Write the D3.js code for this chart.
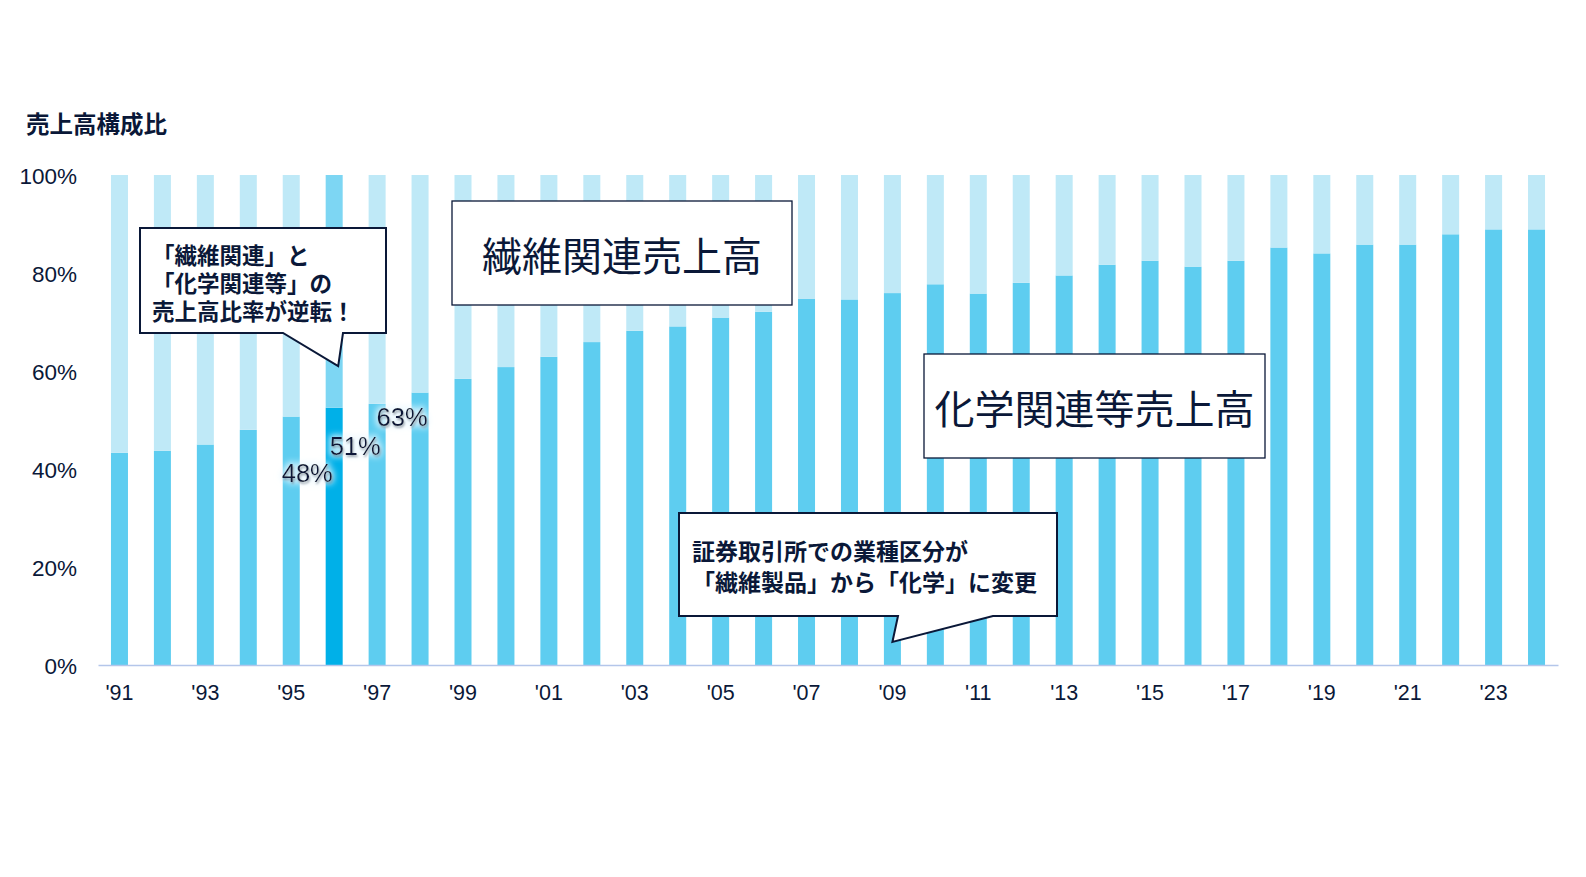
<!DOCTYPE html>
<html>
<head>
<meta charset="utf-8">
<script src="https://cdn.jsdelivr.net/npm/d3@7"></script>
<style>
	body { margin: 0; background: #fff; }
	svg { display: block; }
	text { font-family: "Liberation Sans", Arial, "Noto Sans CJK JP", sans-serif; }
	.jp { font-family: "Noto Sans CJK JP", sans-serif; }
</style>
</head>
<body>
<svg width="1586" height="877"></svg>
<script>
// 年度（'91〜'24）
let years = ['91', '92', '93', '94', '95', '96', '97', '98', '99', '00', '01', '02', '03', '04', '05', '06', '07',
	'08', '09', '10', '11', '12', '13', '14', '15', '16', '17', '18', '19', '20', '21', '22', '23', '24']
// 化学関連等売上高の構成比（%）
let chemShare = [43.3, 43.7, 45.0, 48.0, 50.7, 52.5, 53.3, 55.6, 58.4, 60.8, 62.9, 65.9, 68.2, 69.1, 70.9, 72.1, 74.7,
	74.6, 75.9, 77.7, 75.8, 78.0, 79.5, 81.7, 82.5, 81.3, 82.5, 85.2, 84.0, 85.8, 85.8, 87.9, 88.9, 88.9]
// 繊維関連売上高の構成比（%）
let fiberShare = [56.7, 56.3, 55.0, 52.0, 49.3, 47.5, 46.7, 44.4, 41.6, 39.2, 37.1, 34.1, 31.8, 30.9, 29.1, 27.9, 25.3,
	25.4, 24.1, 22.3, 24.2, 22.0, 20.5, 18.3, 17.5, 18.7, 17.5, 14.8, 16.0, 14.2, 14.2, 12.1, 11.1, 11.1]
let tickYears = ['91', '93', '95', '97', '99', '01', '03', '05', '07', '09', '11', '13', '15', '17', '19', '21', '23']
let yTicks = [0, 20, 40, 60, 80, 100]
let highlightYear = '96'
let pctLabels = [
	{year: '95', text: '48%', dx: 16, value: 39.1},
	{year: '96', text: '51%', dx: 21, value: 44.6},
	{year: '97', text: '63%', dx: 25, value: 50.6}
]

let navy = '#0a1838'
let svg = d3.select('svg')

let x = d3.scaleBand().domain(years).range([98, 1558]).paddingInner(0.604).paddingOuter(0.302)
let y = d3.scaleLinear().domain([0, 100]).range([665, 175])

let rows = years.map((yr, i) => ({year: yr, chem: chemShare[i], fiber: fiberShare[i]}))
let series = d3.stack().keys(['chem', 'fiber'])(rows)

let colors = {
	chem: d3.scaleOrdinal().domain([false, true]).range(['#5ecdf0', '#00b0e8']),
	fiber: d3.scaleOrdinal().domain([false, true]).range(['#bfe9f7', '#7dd6f3'])
}

let defs = svg.append('defs')
let glow = defs.append('filter').attr('id', 'glow').attr('x', '-30%').attr('y', '-30%').attr('width', '160%').attr('height', '160%')
glow.append('feMorphology').attr('in', 'SourceAlpha').attr('operator', 'dilate').attr('radius', 2).attr('result', 'd')
glow.append('feGaussianBlur').attr('in', 'd').attr('stdDeviation', 3).attr('result', 'b')
glow.append('feFlood').attr('flood-color', '#eaf8ff').attr('flood-opacity', 0.85)
glow.append('feComposite').attr('in2', 'b').attr('operator', 'in').attr('result', 'g')
glow.append('feOffset').attr('in', 'SourceAlpha').attr('dx', 1.2).attr('dy', 1.8).attr('result', 'so')
glow.append('feGaussianBlur').attr('in', 'so').attr('stdDeviation', 0.9).attr('result', 'sb')
glow.append('feFlood').attr('flood-color', '#1c3556').attr('flood-opacity', 0.65)
glow.append('feComposite').attr('in2', 'sb').attr('operator', 'in').attr('result', 's')
let merge = glow.append('feMerge')
merge.append('feMergeNode').attr('in', 'g')
merge.append('feMergeNode').attr('in', 's')
merge.append('feMergeNode').attr('in', 'SourceGraphic')

// 棒
svg.append('g')
	.selectAll('g')
	.data(series)
	.join('g')
	.attr('data-key', d => d.key)
	.selectAll('rect')
	.data(d => d.map(p => Object.assign({key: d.key}, p)))
	.join('rect')
	.attr('x', d => x(d.data.year))
	.attr('width', x.bandwidth())
	.attr('y', d => y(d[1]))
	.attr('height', d => y(d[0]) - y(d[1]))
	.attr('fill', d => colors[d.key](d.data.year === highlightYear))

// 軸
let xAxis = svg.append('g')
	.attr('transform', 'translate(0,' + y(0) + ')')
	.call(d3.axisBottom(x).tickValues(tickYears).tickSize(0).tickPadding(20).tickFormat(d => "'" + d))
xAxis.select('.domain').attr('stroke', '#b4c6ea').attr('stroke-width', 1.5)
xAxis.selectAll('text').attr('font-size', 21.5).attr('fill', navy).attr('font-family', '"Liberation Sans", Arial, sans-serif')

let yAxis = svg.append('g')
	.attr('transform', 'translate(77,0)')
	.call(d3.axisLeft(y).tickValues(yTicks).tickSize(0).tickPadding(0).tickFormat(d => d + '%'))
yAxis.select('.domain').remove()
yAxis.selectAll('text').attr('font-size', 22.5).attr('fill', navy).attr('dy', '0.36em').attr('font-family', '"Liberation Sans", Arial, sans-serif')

// 見出し
svg.append('text').attr('class', 'jp')
	.attr('x', 26).attr('y', 123).attr('dominant-baseline', 'central')
	.attr('font-size', 23.5).attr('font-weight', 'bold').attr('fill', navy)
	.text('売上高構成比')

// 系列名ボックス
let nameBoxes = [
	{text: '繊維関連売上高', x: 452, y: 201, w: 340, h: 104},
	{text: '化学関連等売上高', x: 924, y: 354, w: 341, h: 104}
]
nameBoxes.forEach(b => {
	svg.append('rect').attr('x', b.x).attr('y', b.y).attr('width', b.w).attr('height', b.h)
		.attr('fill', '#fff').attr('stroke', navy).attr('stroke-width', 1.3)
	svg.append('text').attr('class', 'jp')
		.attr('x', b.x + b.w / 2).attr('y', b.y + b.h / 2 + 1)
		.attr('text-anchor', 'middle').attr('dominant-baseline', 'central')
		.attr('font-size', 40).attr('fill', navy)
		.text(b.text)
})

// 吹き出し
function callout(box, tail, lines, textX, firstY, lineGap, size) {
	let p = d3.path()
	p.moveTo(box.x, box.y)
	p.lineTo(box.x + box.w, box.y)
	p.lineTo(box.x + box.w, box.y + box.h)
	p.lineTo(tail.right, box.y + box.h)
	p.lineTo(tail.tipX, tail.tipY)
	p.lineTo(tail.left, box.y + box.h)
	p.lineTo(box.x, box.y + box.h)
	p.closePath()
	svg.append('path').attr('d', p.toString()).attr('fill', '#fff').attr('stroke', navy).attr('stroke-width', 2)
	let t = svg.append('text').attr('class', 'jp')
		.attr('x', textX).attr('y', firstY).attr('dominant-baseline', 'central')
		.attr('font-size', size).attr('font-weight', 'bold').attr('fill', navy)
	lines.forEach((line, i) => {
		t.append('tspan').attr('x', textX).attr('dy', i === 0 ? 0 : lineGap).text(line)
	})
}

callout({x: 140, y: 228, w: 246, h: 105},
	{left: 283, right: 343, tipX: x('96') + x.bandwidth() / 2 + 4, tipY: y(61)},
	['「繊維関連」と', '「化学関連等」の', '売上高比率が逆転！'], 152, 254, 28, 22.5)

callout({x: 679, y: 513, w: 378, h: 103},
	{left: 898, right: 993, tipX: x('09') + x.bandwidth() / 2, tipY: y(4.7)},
	['証券取引所での業種区分が', '「繊維製品」から「化学」に変更'], 692, 550, 30.5, 23)

// 比率ラベル
svg.append('g')
	.selectAll('text')
	.data(pctLabels)
	.join('text')
	.attr('x', d => x(d.year) + x.bandwidth() / 2 + d.dx)
	.attr('y', d => y(d.value))
	.attr('text-anchor', 'middle').attr('dominant-baseline', 'central')
	.attr('font-size', 25.5).attr('fill', navy)
	.attr('filter', 'url(#glow)')
	.text(d => d.text)
</script>
</body>
</html>
